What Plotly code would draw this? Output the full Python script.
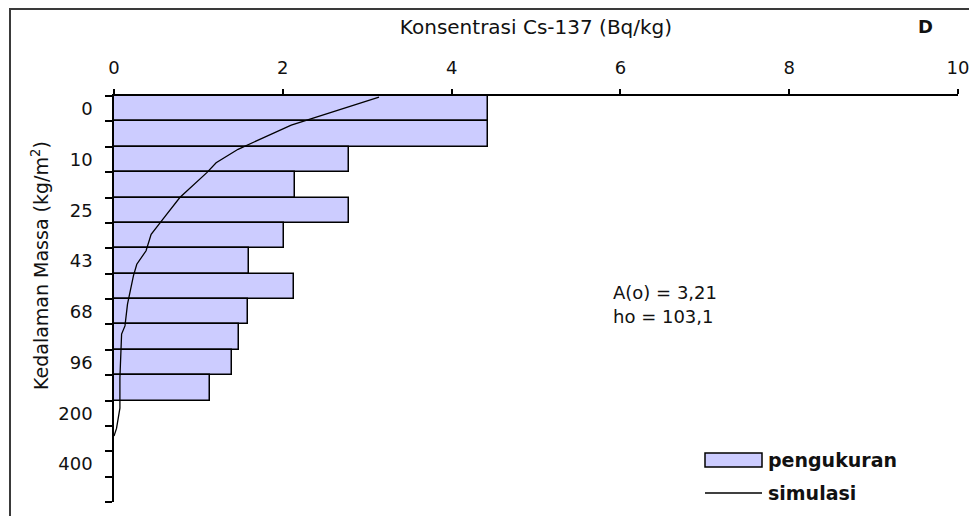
import plotly.graph_objects as go

# Mass-depth layers (one slot per layer, labelled every other layer)
depth_labels = ["0", "", "10", "", "25", "", "43", "", "68", "", "96", "", "200", "", "400", ""]

# Measured Cs-137 concentration per layer (Bq/kg)
measured = [4.43, 4.43, 2.79, 2.15, 2.79, 2.02, 1.60, 2.13, 1.59, 1.48, 1.40, 1.14]

# Simulated profile: concentration vs. position along the layer axis
sim_conc = [3.14, 2.75, 2.10, 1.47, 1.21, 1.10, 0.78, 0.58, 0.44, 0.38, 0.27, 0.23,
            0.16, 0.13, 0.09, 0.07, 0.07, 0.03, 0.0]
sim_pos = [-0.46, -0.04, 0.65, 1.60, 2.13, 2.52, 3.50, 4.35, 4.95, 5.60, 6.13, 6.59,
           7.70, 8.56, 8.88, 10.60, 11.80, 12.60, 12.90]

x_ticks = [0, 2, 4, 6, 8, 10]
fit_text = ["A(o) = 3,21", "ho = 103,1"]

W, H = 969, 516
L, R, T, B = 114, 11, 96, 14
PW, PH = W - L - R, H - T - B
FONT = "DejaVu Sans"
INK = "#111111"


def px(x):
    return (x - L) / PW


def py(y):
    return (H - B - y) / PH


n_slots = len(depth_labels)
layer_pos = list(range(len(measured)))

fig = go.Figure()
fig.add_trace(go.Bar(
    x=measured, y=layer_pos, orientation="h", width=1.0,
    marker=dict(color="#CCCCFF", line=dict(color="black", width=1.5)),
    name="pengukuran", showlegend=False,
))
fig.add_trace(go.Scatter(
    x=sim_conc, y=sim_pos, mode="lines",
    line=dict(color="black", width=1.3),
    name="simulasi", showlegend=False,
))

label_pos = [i for i, t in enumerate(depth_labels) if t]
label_txt = [t for t in depth_labels if t]

fig.update_layout(
    width=W, height=H,
    margin=dict(l=L, r=R, t=T, b=B, autoexpand=False),
    paper_bgcolor="white", plot_bgcolor="white",
    bargap=0,
    font=dict(family=FONT, size=18, color=INK),
    xaxis=dict(
        side="top", range=[0, 10], tickvals=x_ticks,
        ticks="outside", ticklen=5, tickwidth=1.5, tickcolor="black",
        ticklabelstandoff=8, ticklabeloverflow="allow",
        showline=True, linecolor="black", linewidth=1.5,
        showgrid=False, zeroline=False,
        tickfont=dict(family=FONT, size=18, color=INK),
        title=dict(text="Konsentrasi Cs-137 (Bq/kg)", standoff=17,
                   font=dict(family=FONT, size=20, color=INK)),
    ),
    yaxis=dict(
        range=[n_slots - 0.5, -0.5],
        tickmode="array", tickvals=label_pos, ticktext=label_txt,
        ticks="outside", ticklen=7, tickcolor="rgba(0,0,0,0)",
        ticklabelstandoff=9,
        minor=dict(tickmode="array",
                   tickvals=[i - 0.5 for i in range(n_slots + 1)],
                   ticks="outside", ticklen=7, tickwidth=1.5, tickcolor="black",
                   showgrid=False),
        showline=True, linecolor="black", linewidth=1.5,
        showgrid=False, zeroline=False,
        tickfont=dict(family=FONT, size=18, color=INK),
    ),
)

# Depth axis title, centred on the labelled layers
fig.add_annotation(text="Kedalaman Massa (kg/m<sup>2</sup>)", xref="paper", yref="paper",
                   x=px(40), y=py(266), textangle=-90, showarrow=False,
                   xanchor="center", yanchor="middle",
                   font=dict(family=FONT, size=19, color=INK))

# Outer frame of the figure
fig.add_shape(type="rect", xref="paper", yref="paper",
              x0=px(10), x1=px(985), y0=py(540), y1=py(9),
              line=dict(color="#3a3a3a", width=2), layer="below")

# Panel letter
fig.add_annotation(text="<b>D</b>", xref="paper", yref="paper",
                   x=px(925), y=py(27), showarrow=False,
                   xanchor="center", yanchor="middle",
                   font=dict(family=FONT, size=18, color=INK))

# Fitted parameters
for i, t in enumerate(fit_text):
    fig.add_annotation(text=t, xref="paper", yref="paper",
                       x=px(611), y=py(292 + 24 * i), xanchor="left", yanchor="middle",
                       showarrow=False, font=dict(family=FONT, size=18, color=INK))

# Legend keys
fig.add_shape(type="rect", xref="paper", yref="paper",
              x0=px(705), x1=px(762), y0=py(467), y1=py(453),
              fillcolor="#CCCCFF", line=dict(color="black", width=1.5))
fig.add_shape(type="line", xref="paper", yref="paper",
              x0=px(705), x1=px(762), y0=py(493), y1=py(493),
              line=dict(color="black", width=1.3))
for name, yy in (("pengukuran", 460), ("simulasi", 493)):
    fig.add_annotation(text=f"<b>{name}</b>", xref="paper", yref="paper",
                       x=px(766), y=py(yy), xanchor="left", yanchor="middle",
                       showarrow=False, font=dict(family=FONT, size=19, color=INK))

fig.write_html("out.html")
